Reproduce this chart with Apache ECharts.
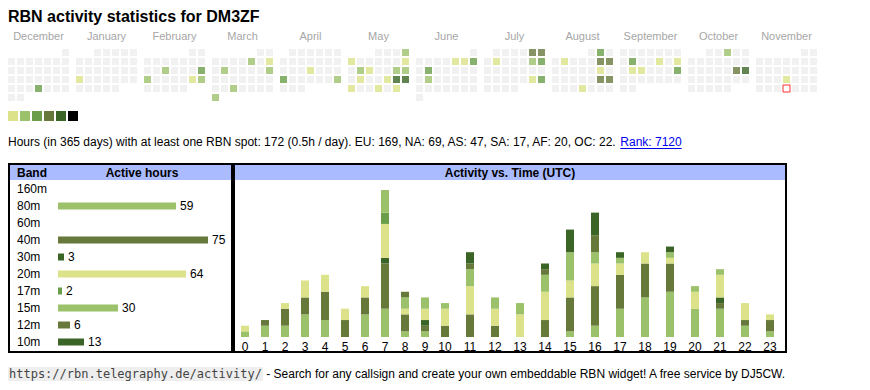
<!DOCTYPE html>
<html><head><meta charset="utf-8">
<script src="https://cdn.jsdelivr.net/npm/echarts@6/dist/echarts.min.js"></script>
<style>html,body{margin:0;padding:0;background:#fff}#c{width:870px;height:390px}</style>
</head><body><div id="c"></div><script>
// ---------- data ----------
const callsign = 'DM3ZF';
const monthNames = ['December','January','February','March','April','May','June','July','August','September','October','November'];
const monthKeys = ['2024-12','2025-01','2025-02','2025-03','2025-04','2025-05','2025-06','2025-07','2025-08','2025-09','2025-10','2025-11'];
const activeDays = [
  ['2024-12-26',3],
  ['2025-01-20',1],
  ['2025-02-12',2],['2025-02-16',3],['2025-02-17',2],['2025-02-22',1],['2025-02-23',2],
  ['2025-03-07',2],['2025-03-09',1],['2025-03-11',2],['2025-03-16',2],['2025-03-26',2],['2025-03-31',2],
  ['2025-04-17',1],['2025-04-21',3],['2025-04-27',2],
  ['2025-05-04',2],['2025-05-05',1],['2025-05-11',1],['2025-05-13',2],['2025-05-14',1],['2025-05-17',2],['2025-05-18',2],
  ['2025-05-20',1],['2025-05-23',1],['2025-05-24',5],['2025-05-25',5],['2025-05-26',1],['2025-05-29',1],['2025-05-31',1],
  ['2025-06-06',1],['2025-06-07',1],['2025-06-08',3],['2025-06-10',3],['2025-06-17',2],
  ['2025-07-05',4],['2025-07-06',4],['2025-07-08',1],['2025-07-12',2],['2025-07-13',3],['2025-07-26',1],['2025-07-27',3],
  ['2025-08-02',3],['2025-08-05',1],['2025-08-09',4],['2025-08-10',4],['2025-08-16',1],['2025-08-23',4],['2025-08-24',4],['2025-08-28',1],
  ['2025-09-09',3],['2025-09-12',1],['2025-09-14',1],['2025-09-16',1],['2025-09-17',1],['2025-09-21',3],
  ['2025-10-03',2],['2025-10-18',4],['2025-10-19',5],
  ['2025-11-20',1]
];
const today = '2025-11-27';
const levelColors = ['#eeeeee','#dce28a','#9cc16b','#6a9e48','#66793b','#3b6526','#000000'];

const bands = ['160m','80m','60m','40m','30m','20m','17m','15m','12m','10m'];
const bandHours = [0,59,0,75,3,64,2,30,6,13];
const bandColors = ['#dce28a','#9cc16b','#6a9e48','#66793b','#3b6526','#dce28a','#6a9e48','#9cc16b','#66793b','#3b6526'];

const hourLabels = ['0','1','2','3','4','5','6','7','8','9','10','11','12','13','14','15','16','17','18','19','20','21','22','23'];
const hours160m = [0,0,0,0,0,0,0,0,0,0,0,0,0,0,0,0,0,0,0,0,0,0,0,0];
const hours80m  = [1,2,2,4,3,0,4,5,1,1,0,0,0,0,0,1,2,5,7,8,5,5,2,1];
const hours60m  = [0,0,0,0,0,0,0,0,0,0,0,0,0,0,0,0,0,0,0,0,0,0,0,0];
const hours40m  = [0,1,3,3,5,3,3,8,3,1,2,4,2,0,3,6,7,6,6,5,0,1,1,2];
const hours30m  = [0,0,0,0,0,0,0,1,0,1,0,0,0,0,0,0,0,0,0,0,0,1,0,0];
const hours20m  = [1,0,1,3,3,2,2,6,1,2,3,5,3,4,5,3,4,2,2,1,3,4,3,1];
const hours17m  = [0,0,0,0,0,0,0,2,0,0,0,0,0,0,0,0,0,0,0,0,0,0,0,0];
const hours15m  = [0,0,0,0,0,0,0,4,2,2,1,3,2,2,3,5,2,1,0,1,1,1,0,0];
const hours12m  = [0,0,0,0,0,0,0,0,1,0,0,1,0,0,1,0,3,0,0,0,0,0,0,0];
const hours10m  = [0,0,0,0,0,0,0,0,0,0,0,2,0,0,1,4,4,1,0,1,0,0,0,0];
const hourly = [hours160m,hours80m,hours60m,hours40m,hours30m,hours20m,hours17m,hours15m,hours12m,hours10m];

const statsText = 'Hours (in 365 days) with at least one RBN spot: 172 (0.5h / day). EU: 169, NA: 69, AS: 47, SA: 17, AF: 20, OC: 22. ';
const rankText = 'Rank: 7120';
const footerUrl = 'https://rbn.telegraphy.de/activity/';
const footerText = ' - Search for any callsign and create your own embeddable RBN widget! A free service by DJ5CW.';

// ---------- build ----------
const FONT = '"Liberation Sans", Arial, Helvetica, sans-serif';
const weekdays = ['Mo','Tu','We','Th','Fr','Sa','Su'];
const weekRows = ['0','1','2','3','4','5'];
const levelByDate = {};
activeDays.forEach(([d,l]) => levelByDate[d] = l);

const grids = [], xAxes = [], yAxes = [], series = [];

monthKeys.forEach((key, i) => {
  const [y, m] = key.split('-').map(Number);
  const first = (new Date(Date.UTC(y, m - 1, 1)).getUTCDay() + 6) % 7;
  const nDays = new Date(Date.UTC(y, m, 0)).getUTCDate();
  const data = [];
  for (let d = 1; d <= nDays; d++) {
    const idx = first + d - 1;
    const ds = key + '-' + String(d).padStart(2, '0');
    const lvl = levelByDate[ds] || 0;
    const item = { value: [idx % 7, Math.floor(idx / 7), lvl], itemStyle: { color: levelColors[lvl] } };
    if (ds === today) item.itemStyle = { color: '#ffffff', borderColor: '#ff0000', borderWidth: 1 };
    data.push(item);
  }
  grids.push({ left: 7 + 68 * i, top: 48, width: 63, height: 54 });
  xAxes.push({ gridIndex: i, type: 'category', data: weekdays, position: 'top',
    axisLine: { show: false }, axisTick: { show: false }, axisLabel: { show: false }, splitLine: { show: false },
    name: monthNames[i], nameLocation: 'middle', nameGap: 7,
    nameTextStyle: { color: '#a6a6a6', fontSize: 11, fontFamily: FONT } });
  yAxes.push({ gridIndex: i, type: 'category', data: weekRows, inverse: true, show: false });
  series.push({ type: 'scatter', xAxisIndex: i, yAxisIndex: i, symbol: 'rect', symbolSize: 7,
    data, silent: true, animation: false });
});

// band chart
const gB = grids.length;
grids.push({ left: 58, top: 180.5, width: 2 * Math.max(...bandHours), height: 170 });
xAxes.push({ gridIndex: gB, type: 'value', min: 0, max: Math.max(...bandHours), show: false });
yAxes.push({ gridIndex: gB, type: 'category', data: bands, inverse: true,
  axisLine: { show: false }, axisTick: { show: false }, splitLine: { show: false },
  axisLabel: { align: 'left', margin: 41, fontSize: 12, color: '#000', fontFamily: FONT } });
series.push({ type: 'bar', xAxisIndex: gB, yAxisIndex: gB, barWidth: 7, animation: false,
  data: bandHours.map((v, k) => ({ value: v, itemStyle: { color: bandColors[k] } })),
  label: { show: true, position: 'right', distance: 4, fontSize: 12, color: '#000', fontFamily: FONT,
    formatter: p => p.value > 0 ? String(p.value) : '' } });

// hourly chart: two grids (single-digit hour columns narrower than double-digit)
const totals = hourLabels.map((_, h) => hourly.reduce((s, arr) => s + arr[h], 0));
const yMax = Math.max(...totals);
const parts = [
  { from: 0, to: 10, left: 235, width: 200 },
  { from: 10, to: 24, left: 432.5, width: 350 }
];
parts.forEach((p, pi) => {
  const g = grids.length;
  grids.push({ left: p.left, top: 190, width: p.width, height: 147 });
  xAxes.push({ gridIndex: g, type: 'category', data: hourLabels.slice(p.from, p.to),
    axisLine: { show: false }, axisTick: { show: false }, splitLine: { show: false },
    axisLabel: { margin: 4, fontSize: 12, color: '#000', fontFamily: FONT, interval: 0 } });
  yAxes.push({ gridIndex: g, type: 'value', min: 0, max: yMax, show: false });
  bands.forEach((b, k) => {
    series.push({ type: 'bar', name: b, xAxisIndex: g, yAxisIndex: g, stack: 'hours' + pi, barWidth: 8,
      animation: false, itemStyle: { color: bandColors[k] },
      data: hourly[k].slice(p.from, p.to) });
  });
});

// text measurement for underline
const mctx = document.createElement('canvas').getContext('2d');
mctx.font = '12px ' + FONT;
const statsW = mctx.measureText(statsText).width;
const rankW = mctx.measureText(rankText).width;

const graphic = [
  { type: 'text', left: 8, top: 8, style: { text: 'RBN activity statistics for ' + callsign, font: 'bold 16px ' + FONT, fill: '#000' } },
  ...levelColors.slice(1).map((c, i) => ({ type: 'rect', shape: { x: 8 + 12 * i, y: 111, width: 10, height: 10 }, style: { fill: c } })),
  { type: 'text', x: 8, y: 142, style: { text: statsText, font: '12px ' + FONT, fill: '#000', textVerticalAlign: 'middle' } },
  { type: 'text', x: 8 + statsW, y: 142, style: { text: rankText, font: '12px ' + FONT, fill: '#0000ee', textVerticalAlign: 'middle' } },
  { type: 'line', shape: { x1: 8 + statsW, y1: 148.5, x2: 8 + statsW + rankW, y2: 148.5 }, style: { stroke: '#0000ee', lineWidth: 1 } },
  // boxes
  { type: 'rect', shape: { x: 10, y: 165, width: 221, height: 15 }, style: { fill: '#aabbff' } },
  { type: 'rect', shape: { x: 235, y: 165, width: 550, height: 15 }, style: { fill: '#aabbff' } },
  { type: 'rect', shape: { x: 9, y: 164, width: 223, height: 188 }, style: { fill: 'none', stroke: '#000', lineWidth: 2 } },
  { type: 'rect', shape: { x: 234, y: 164, width: 552, height: 188 }, style: { fill: 'none', stroke: '#000', lineWidth: 2 } },
  { type: 'text', x: 17, y: 173, style: { text: 'Band', font: 'bold 12px ' + FONT, fill: '#000', textVerticalAlign: 'middle' } },
  { type: 'text', x: 142, y: 173, style: { text: 'Active hours', font: 'bold 12px ' + FONT, fill: '#000', textAlign: 'center', textVerticalAlign: 'middle' } },
  { type: 'text', x: 510, y: 173, style: { text: 'Activity vs. Time (UTC)', font: 'bold 12px ' + FONT, fill: '#000', textAlign: 'center', textVerticalAlign: 'middle' } },
  // footer
  { type: 'text', x: 8, y: 374, style: {
      text: '{u|' + footerUrl + '}{t|' + footerText + '}', textVerticalAlign: 'middle',
      rich: {
        u: { fontFamily: '"DejaVu Sans Mono", monospace', fontSize: 12, fill: '#444', backgroundColor: '#eeeeee', padding: [1, 1, 1, 1] },
        t: { fontFamily: FONT, fontSize: 12, fill: '#000' }
      } } }
];

const chart = echarts.init(document.getElementById('c'), null, { renderer: 'svg', width: 870, height: 390 });
chart.setOption({
  animation: false,
  grid: grids, xAxis: xAxes, yAxis: yAxes, series, graphic
});
</script></body></html>
